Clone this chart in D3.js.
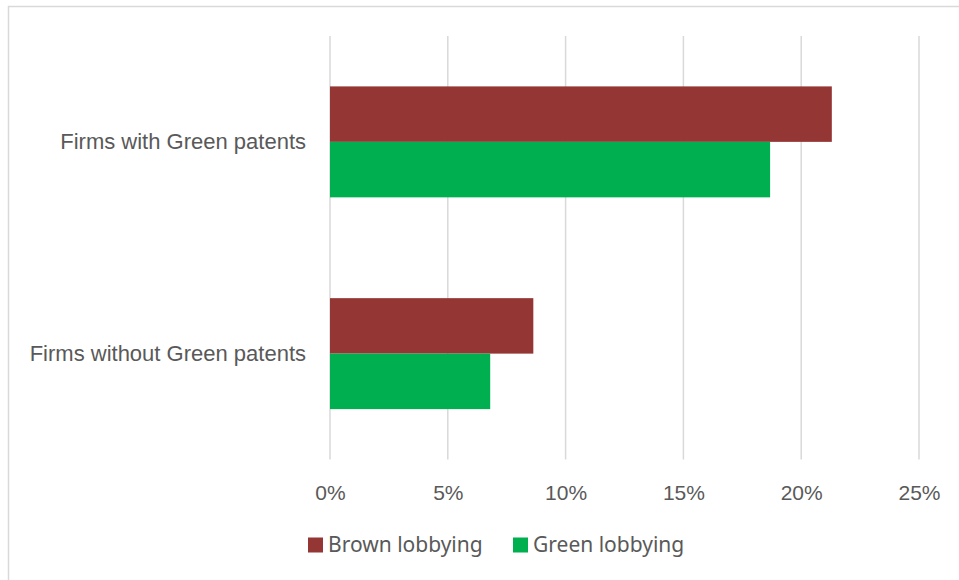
<!DOCTYPE html>
<html>
<head>
<meta charset="utf-8">
<script src="https://cdn.jsdelivr.net/npm/d3@7"></script>
<style>
  body { margin: 0; background: #fff; }
  svg { display: block; font-family: "Noto Sans", "Open Sans", sans-serif; }
</style>
</head>
<body>
<div id="chart"></div>
<script>
// data
let categories = ["Firms with Green patents", "Firms without Green patents"];
let seriesNames = ["Brown lobbying", "Green lobbying"];
let brownValues = [21.3, 8.63];
let greenValues = [18.68, 6.8];
let tickValues = [0, 5, 10, 15, 20, 25];

let colors = { "Brown lobbying": "#943634", "Green lobbying": "#00b050" };

let W = 959, H = 580;
let margin = { left: 330, right: 40, top: 36, bottom: 120.5 };
let fontSize = "21px";
let catFontSize = "22px";

let svg = d3.select("#chart").append("svg")
    .attr("width", W)
    .attr("height", H);

// outer frame (cut by window on right/bottom)
svg.append("rect")
    .attr("x", 8.5).attr("y", 6.5)
    .attr("width", W + 10).attr("height", H + 10)
    .attr("fill", "none")
    .attr("stroke", "#d9d9d9")
    .attr("stroke-width", 1.5);

let x = d3.scaleLinear()
    .domain([0, 25])
    .range([margin.left, 919]);

let y = d3.scaleBand()
    .domain(categories)
    .range([margin.top, H - margin.bottom])
    .paddingInner(0.476)
    .paddingOuter(0.238);

// gridlines
svg.append("g")
    .selectAll("line")
    .data(tickValues)
    .enter()
    .append("line")
        .attr("x1", d => x(d)).attr("x2", d => x(d))
        .attr("y1", margin.top).attr("y2", H - margin.bottom)
        .attr("stroke", "#d9d9d9")
        .attr("stroke-width", 1.5);

// bars
let rows = categories.map((c, i) => ({ cat: c, vals: [
    { s: seriesNames[0], v: brownValues[i] },
    { s: seriesNames[1], v: greenValues[i] }
]}));

let ySub = d3.scaleBand()
    .domain(seriesNames)
    .range([0, y.bandwidth()]);

svg.append("g")
    .selectAll("g")
    .data(rows)
    .enter()
    .append("g")
        .attr("transform", d => `translate(0,${y(d.cat)})`)
    .selectAll("rect")
    .data(d => d.vals)
    .enter()
    .append("rect")
        .attr("x", x(0))
        .attr("y", d => ySub(d.s))
        .attr("width", d => x(d.v) - x(0))
        .attr("height", ySub.bandwidth())
        .attr("fill", d => colors[d.s]);

// x axis labels
let xAx = d3.axisBottom(x)
    .tickValues(tickValues)
    .tickSize(0)
    .tickPadding(0)
    .tickFormat(d => d + "%");

let xg = svg.append("g")
    .attr("transform", `translate(0,${H - margin.bottom + 26})`)
    .call(xAx);
xg.select(".domain").remove();
xg.selectAll("text")
    .attr("fill", "#595959")
    .style("font-size", fontSize)
    .attr("dy", "0.35em")
    .attr("y", 7);

// y axis labels
let yAx = d3.axisLeft(y).tickSize(0).tickPadding(24);
let yg = svg.append("g")
    .attr("transform", `translate(${margin.left},0)`)
    .call(yAx);
yg.select(".domain").remove();
yg.selectAll("text")
    .attr("fill", "#595959")
    .style("font-size", catFontSize);

// legend
let legendX = [308, 513];
let legend = svg.append("g")
    .selectAll("g")
    .data(seriesNames)
    .enter()
    .append("g")
        .attr("transform", (d, i) => `translate(${legendX[i]},545)`);

legend.append("rect")
    .attr("x", 0).attr("y", -7.5)
    .attr("width", 15).attr("height", 15)
    .attr("fill", d => colors[d]);

legend.append("text")
    .attr("x", 20)
    .attr("dy", "0.35em")
    .attr("fill", "#595959")
    .style("font-size", fontSize)
    .text(d => d);
</script>
</body>
</html>
